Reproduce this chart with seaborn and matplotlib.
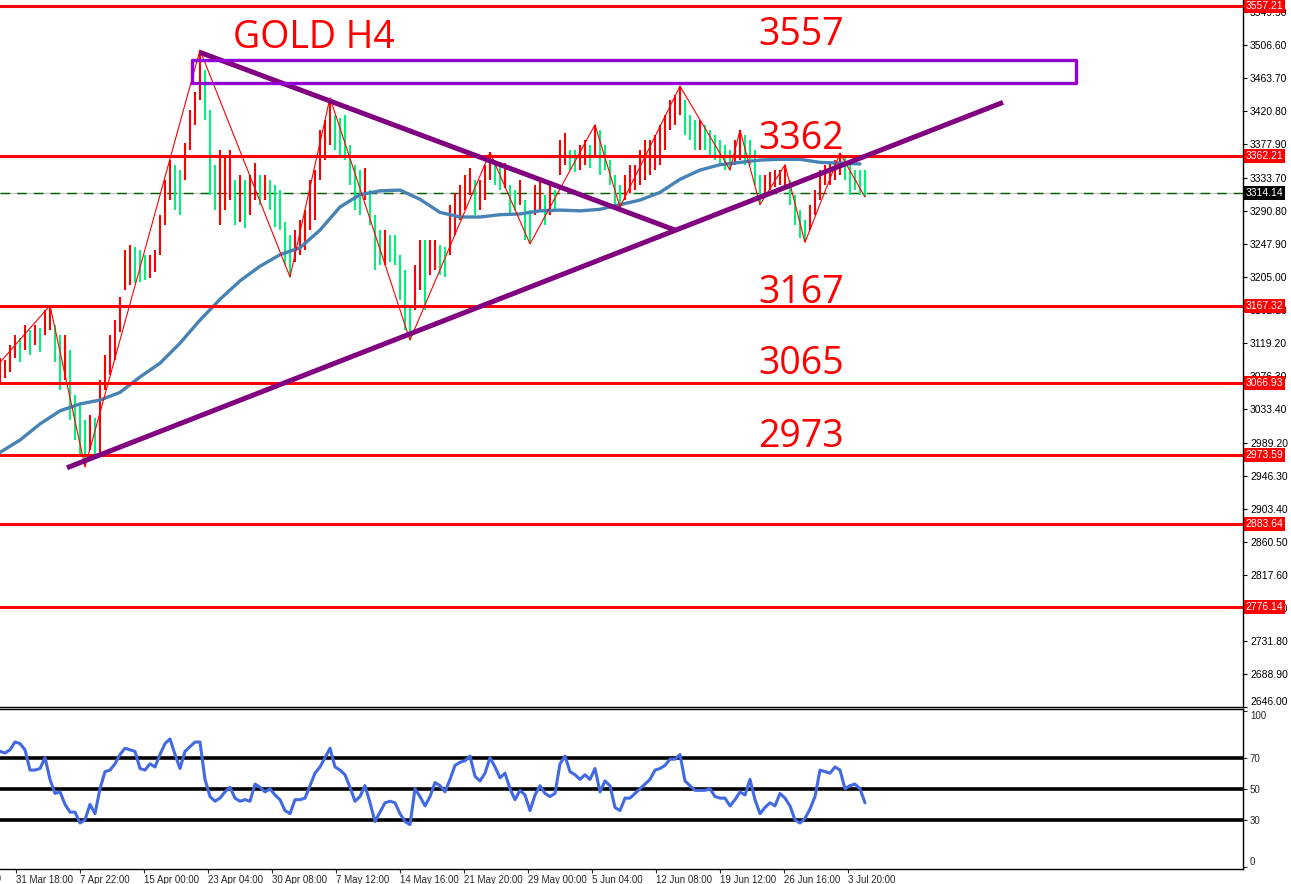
#!/usr/bin/env python3
"""Gold H4 chart with levels, trendlines, zigzag and RSI panel."""

import matplotlib

matplotlib.use("Agg")
import matplotlib.pyplot as plt
import matplotlib.transforms as mtransforms
import numpy as np
import pandas as pd
import seaborn as sns


# price bars (one every ~2.5 H4 candles)
bar_high = [
    3100, 3097, 3117, 3130, 3126, 3143, 3136, 3143, 3139, 3162,
    3168, 3143, 3130, 3130, 3110, 3052, 3039, 3019, 3026, 3022,
    3071, 3104, 3130, 3149, 3179, 3240, 3247, 3244, 3240, 3234,
    3234, 3240, 3286, 3331, 3357, 3351, 3344, 3379, 3422, 3445,
    3500, 3474, 3422, 3351, 3370, 3364, 3370, 3331, 3338, 3331,
    3338, 3353, 3338, 3338, 3331, 3325, 3318, 3276, 3260, 3266,
    3279, 3292, 3331, 3344, 3396, 3409, 3438, 3416, 3412, 3416,
    3377, 3351, 3344, 3347, 3318, 3286, 3266, 3266, 3260, 3260,
    3234, 3214, 3168, 3221, 3253, 3253, 3253, 3253, 3247, 3244,
    3299, 3314, 3325, 3338, 3347, 3331, 3331, 3351, 3367, 3357,
    3351, 3353, 3325, 3318, 3331, 3305, 3292, 3325, 3331, 3312,
    3325, 3318, 3383, 3392, 3370, 3370, 3377, 3383, 3377, 3403,
    3396, 3377, 3357, 3338, 3325, 3338, 3351, 3351, 3370, 3383,
    3383, 3390, 3403, 3416, 3435, 3442, 3453, 3435, 3416, 3409,
    3409, 3403, 3396, 3390, 3383, 3377, 3370, 3383, 3396, 3390,
    3383, 3370, 3338, 3338, 3341, 3344, 3344, 3351, 3331, 3312,
    3292, 3279, 3299, 3318, 3344, 3351, 3354, 3357, 3366, 3364,
    3351, 3344, 3344, 3344,
]
bar_low = [
    3068, 3074, 3081, 3100, 3094, 3110, 3104, 3117, 3107, 3130,
    3136, 3094, 3058, 3071, 3019, 2993, 2974, 2958, 2980, 2974,
    2974, 3058, 3078, 3097, 3133, 3188, 3195, 3197, 3198, 3201,
    3204, 3211, 3234, 3273, 3305, 3292, 3286, 3331, 3370, 3403,
    3435, 3409, 3312, 3292, 3273, 3292, 3305, 3273, 3276, 3269,
    3286, 3305, 3299, 3305, 3292, 3270, 3266, 3221, 3205, 3224,
    3234, 3240, 3266, 3279, 3331, 3357, 3377, 3370, 3364, 3357,
    3325, 3292, 3286, 3305, 3273, 3214, 3221, 3221, 3224, 3221,
    3175, 3136, 3123, 3162, 3188, 3162, 3208, 3214, 3208, 3205,
    3234, 3260, 3279, 3292, 3312, 3286, 3292, 3305, 3331, 3325,
    3318, 3321, 3288, 3292, 3299, 3253, 3248, 3286, 3292, 3273,
    3286, 3292, 3338, 3351, 3344, 3341, 3344, 3351, 3347, 3364,
    3338, 3344, 3325, 3299, 3296, 3305, 3314, 3318, 3325, 3331,
    3338, 3344, 3351, 3370, 3396, 3403, 3416, 3390, 3383, 3370,
    3370, 3370, 3364, 3357, 3351, 3344, 3344, 3351, 3357, 3351,
    3351, 3325, 3299, 3312, 3318, 3322, 3325, 3318, 3299, 3273,
    3256, 3250, 3266, 3286, 3305, 3325, 3325, 3331, 3338, 3331,
    3312, 3318, 3312, 3309,
]

# moving average, one value every 4 bars
ma_step = 4
ma_values = [
    2977, 2993, 3014, 3031, 3040, 3045, 3055, 3075, 3093, 3119,
    3149, 3176, 3200, 3219, 3234, 3243, 3266, 3296, 3312, 3317,
    3318, 3306, 3289, 3283, 3283, 3286, 3287, 3291, 3292, 3291,
    3293, 3299, 3305, 3315, 3332, 3344, 3351, 3354, 3357, 3358,
    3358, 3354, 3353, 3352,
]

# zigzag swing points (bar number, price)
zz_bar = [0, 10, 17, 40, 58, 66, 82, 98, 106, 119, 124, 136, 146, 148, 152, 157, 161, 168, 173]
zz_price = [3094, 3168, 2958, 3500, 3205, 3438, 3123, 3367, 3248, 3403, 3296, 3453, 3344,
            3396, 3299, 3351, 3250, 3366, 3309]

# RSI, one value per bar
rsi_values = [
    74, 73, 75, 80, 79, 75, 62, 62, 63, 70,
    56, 47, 48, 40, 35, 35, 28, 30, 40, 34,
    50, 61, 62, 66, 72, 76, 75, 74, 63, 62,
    66, 64, 72, 79, 82, 72, 63, 74, 77, 80,
    80, 56, 45, 42, 44, 48, 51, 44, 42, 43,
    42, 53, 51, 48, 50, 46, 43, 36, 34, 43,
    43, 44, 52, 60, 64, 70, 76, 64, 62, 59,
    51, 42, 45, 52, 41, 29, 35, 41, 42, 41,
    34, 29, 27, 50, 45, 39, 45,
    54, 52, 48, 56, 65, 67, 68, 71, 58, 55,
    60, 70, 64, 57, 60, 50, 43, 49, 46, 36,
    46, 52, 47, 45, 47, 66, 71, 61, 59, 56,
    59, 56, 63, 48, 55, 52, 38, 36, 44, 44,
    47, 50, 53, 56, 62, 63, 65, 69, 69, 72,
    55, 52, 49, 49, 49, 50, 45, 44, 44, 39,
    43, 48, 46, 56, 43, 34, 38, 41, 39, 47,
    44, 39, 30, 28, 31, 37, 45, 62, 61, 60,
    64, 62, 50, 52, 53, 50, 41,
]
rsi_levels = [70, 50, 30]

levels = [3557.21, 3362.21, 3167.32, 3066.93, 2973.59, 2883.64, 2776.14]
bid_price = 3314.14
big_labels = ["3557", "3362", "3167", "3065", "2973"]

price_ticks = [3549.50, 3506.60, 3463.70, 3420.80, 3377.90, 3333.70, 3290.80, 3247.90,
               3205.00, 3162.10, 3119.20, 3076.30, 3033.40, 2989.20, 2946.30, 2903.40,
               2860.50, 2817.60, 2774.70, 2731.80, 2688.90, 2646.00]
time_labels = ["24 Mar 14:00", "31 Mar 18:00", "7 Apr 22:00", "15 Apr 00:00", "23 Apr 04:00",
               "30 Apr 08:00", "7 May 12:00", "14 May 16:00", "21 May 20:00", "29 May 00:00",
               "5 Jun 04:00", "12 Jun 08:00", "19 Jun 12:00", "26 Jun 16:00", "3 Jul 20:00"]

# drawn objects (bar number, price)
up_trend = ([13.4, 200.6], [2957, 3432])
down_trend = ([40, 135], [3497, 3266])
zone = (38.4, 215.2, 3457, 3487)


def main() -> None:
    sns.set_theme(style="white")
    plt.rcParams["font.family"] = ["Liberation Sans", "DejaVu Sans"]

    W, H = 1291, 884
    fig = plt.figure(figsize=(W / 100, H / 100), dpi=100)
    fig.patch.set_facecolor("white")
    plot_w = 1243 / W
    ax = fig.add_axes([0, 1 - 707 / H, plot_w, 707 / H])
    rsi_ax = fig.add_axes([0, 15 / H, plot_w, (869 - 709) / H])

    n = len(bar_high)
    bars = pd.DataFrame({"bar": np.arange(n), "high": bar_high, "low": bar_low})
    mid = (bars["high"] + bars["low"]) / 2
    rising = mid.diff().fillna(1) >= 0
    colors = np.where(rising, "#ff0000", "#00f27a")

    for lv in levels:
        ax.axhline(lv, color="#ff0000", lw=2.2, zorder=4)
    ax.axhline(bid_price, color="#c8c8c8", lw=1, zorder=1)
    ax.axhline(bid_price, color="#006400", lw=1, dashes=(7, 5), zorder=1)

    ax.vlines(bars["bar"], bars["low"], bars["high"], colors=colors, lw=1.5, zorder=2)

    ma = pd.DataFrame({"bar": np.arange(len(ma_values)) * ma_step, "ma": ma_values})
    sns.lineplot(data=ma, x="bar", y="ma", color="#4682b4", lw=2.4, ax=ax, zorder=3)

    zz = pd.DataFrame({"bar": zz_bar, "price": zz_price})
    sns.lineplot(data=zz, x="bar", y="price", color="#ff0000", lw=0.8, ax=ax,
                 sort=False, zorder=3.5)

    ax.plot(*up_trend, color="#800080", lw=3.6, solid_capstyle="butt", zorder=5)
    ax.plot(*down_trend, color="#800080", lw=3.6, solid_capstyle="butt", zorder=5)
    x0, x1, y0, y1 = zone
    ax.plot([x0, x1, x1, x0, x0], [y0, y0, y1, y1, y0], color="#9400d3", lw=2.4, zorder=5)

    big_font = dict(family=["Open Sans", "DejaVu Sans"], fontsize=27, color="#ff0000",
                    va="center", ha="left", zorder=6)
    ax.text(46.6, 3516, "GOLD H4", **big_font)
    for lab, yv in zip(big_labels, [3519, 3385, 3184, 3092, 2997]):
        ax.text(151.6, yv, lab, **big_font)

    ax.set_xlim(0, 1243 / 5)
    ax.set_ylim(2646.0, 3565.1)
    ax.set_xlabel("")
    ax.set_ylabel("")
    ax.set_xticks([])
    ax.yaxis.tick_right()
    ax.set_yticks(price_ticks)
    ax.set_yticklabels([f"{v:.2f}" for v in price_ticks])
    ax.tick_params(axis="y", right=True, direction="out", length=3, width=0.8,
                   labelsize=7.5, pad=2, colors="black")
    ax.get_yticklabels()[-1].set_va("bottom")
    for side in ["top", "left"]:
        ax.spines[side].set_visible(False)
    for side in ["right", "bottom"]:
        ax.spines[side].set_color("black")
        ax.spines[side].set_linewidth(1)

    tag = mtransforms.blended_transform_factory(ax.transAxes, ax.transData)
    for lv in levels:
        ax.text(1.002, lv, f"{lv:.2f}", transform=tag, color="white", fontsize=7.5,
                va="center", ha="left", clip_on=False, zorder=10,
                bbox=dict(boxstyle="square,pad=0.18", fc="#ff0000", ec="none"))
    ax.text(1.002, bid_price, f"{bid_price:.2f}", transform=tag, color="white", fontsize=7.5,
            va="center", ha="left", clip_on=False, zorder=10,
            bbox=dict(boxstyle="square,pad=0.18", fc="black", ec="none"))

    # RSI panel
    rsi = pd.DataFrame({"bar": np.arange(len(rsi_values)), "rsi": rsi_values})
    for lv in rsi_levels:
        rsi_ax.axhline(lv, color="black", lw=2.6, zorder=2)
    sns.lineplot(data=rsi, x="bar", y="rsi", color="#4169e1", lw=2.2, ax=rsi_ax, zorder=3)
    rsi_ax.set_xlim(0, 1243 / 5)
    rsi_ax.set_ylim(-1.5, 101.2)
    rsi_ax.set_xlabel("")
    rsi_ax.set_ylabel("")
    rsi_ax.yaxis.tick_right()
    rsi_ax.set_yticks([100, 70, 50, 30, 0])
    rsi_ax.set_yticklabels(["100", "70", "50", "30", "0"])
    rsi_ax.tick_params(axis="y", right=True, direction="out", length=3, width=0.8,
                       labelsize=7, pad=2)
    ylabs = rsi_ax.get_yticklabels()
    ylabs[0].set_va("top")
    ylabs[-1].set_va("bottom")

    label_every = 12.8
    tick_pos = np.arange(len(time_labels)) * label_every - 9.6
    shown = tick_pos >= 0
    rsi_ax.set_xticks(tick_pos[shown])
    rsi_ax.set_xticklabels(np.array(time_labels)[shown], ha="left")
    rsi_ax.tick_params(axis="x", bottom=True, direction="out", length=3, width=0.8,
                       labelsize=7, pad=1.5)
    rsi_ax.text(tick_pos[0] - 1.5, -0.03, time_labels[0],
                transform=mtransforms.blended_transform_factory(rsi_ax.transData, rsi_ax.transAxes),
                fontsize=7, ha="left", va="top", clip_on=False)
    rsi_ax.spines["left"].set_visible(False)
    for side in ["right", "bottom", "top"]:
        rsi_ax.spines[side].set_color("black")
        rsi_ax.spines[side].set_linewidth(1)
    rsi_ax.grid(False)
    ax.grid(False)

    fig.savefig("out.png", dpi=100, facecolor="white")
    plt.close(fig)


if __name__ == "__main__":
    main()
